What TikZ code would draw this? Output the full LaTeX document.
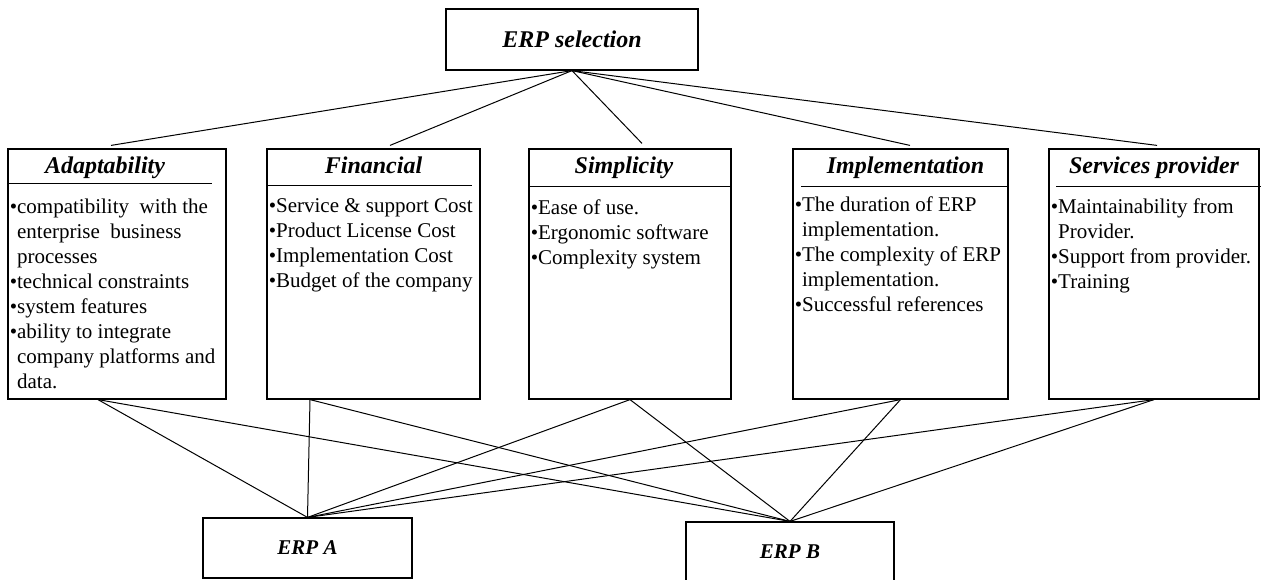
\documentclass[tikz,border=0pt]{standalone}
\usepackage{fontspec}
\setmainfont{Liberation Serif}
\usetikzlibrary{positioning}
\newcommand{\itemdot}{\textbullet}
\newcommand{\itemgap}{\phantom{\textbullet}}
\tikzset{
  goalbox/.style={draw,line width=0.6pt,inner sep=0pt,font=\fontsize{12}{14}\selectfont\bfseries\itshape},
  critbox/.style={draw,line width=0.6pt,inner sep=0pt,minimum width=#1,minimum height=125pt},
  crithead/.style={anchor=base,inner sep=0pt,font=\fontsize{12}{14}\selectfont\bfseries\itshape},
  critlist/.style={anchor=north west,align=left,inner sep=0pt,font=\fontsize{10.5}{12.5}\selectfont},
  altbox/.style={draw,line width=0.6pt,inner sep=0pt,minimum width=#1,minimum height=30pt,font=\fontsize{10.5}{12}\selectfont\bfseries\itshape},
  link/.style={line width=0.5pt}
}
\begin{document}
\begin{tikzpicture}[x=0.5pt,y=-0.5pt]
\useasboundingbox (0,0) rectangle (1263,579);
% goal
\node[goalbox,minimum width=126pt,minimum height=30.5pt] (sel) at (572,39.5) {ERP selection};
% criteria
\node[critbox=109pt] (adapt) at (117,274) {};
\node[critbox=106.5pt] (fin) at (373.5,274) {};
\node[critbox=101pt] (simp) at (630,274) {};
\node[critbox=107.5pt] (impl) at (900.5,274) {};
\node[critbox=105pt] (serv) at (1154,274) {};
\node[crithead] (adaptHead) at ([xshift=-6pt,yshift=-12.5pt]adapt.north) {Adaptability};
\node[crithead] (finHead) at ([yshift=-12.5pt]fin.north) {Financial};
\node[crithead] (simpHead) at ([xshift=-3pt,yshift=-12.5pt]simp.north) {Simplicity};
\node[crithead] (implHead) at ([xshift=2.5pt,yshift=-12.5pt]impl.north) {Implementation};
\node[crithead] (servHead) at ([yshift=-12.5pt]serv.north) {Services provider};
\draw[link] ([yshift=-17.5pt]adapt.north west) -- +(102.5pt,0);
\draw[link] ([yshift=-18.5pt]fin.north west) -- +(103pt,0);
\draw[link] ([yshift=-19pt]simp.north west) -- +(102pt,0);
\draw[link] ([xshift=4.5pt,yshift=-19pt]impl.north west) -- +(103pt,0);
\draw[link] ([xshift=4pt,yshift=-19pt]serv.north west) -- +(102.5pt,0);
\node[critlist] (adaptList) at ([xshift=1pt,yshift=-25pt]adapt.north west)
  {\itemdot compatibility\ \ with the\\ \itemgap enterprise\ \ business\\ \itemgap processes\\
   \itemdot technical constraints\\ \itemdot system features\\ \itemdot ability to integrate\\
   \itemgap company platforms and\\ \itemgap data.};
\node[critlist] (finList) at ([xshift=1pt,yshift=-25pt]fin.north west)
  {\itemdot Service \& support Cost\\ \itemdot Product License Cost\\
   \itemdot Implementation Cost\\ \itemdot Budget of the company};
\node[critlist] (simpList) at ([xshift=1pt,yshift=-25.5pt]simp.north west)
  {\itemdot Ease of use.\\ \itemdot Ergonomic software\\ \itemdot Complexity system};
\node[critlist] (implList) at ([xshift=1pt,yshift=-24pt]impl.north west)
  {\itemdot The duration of ERP\\ \itemgap implementation.\\ \itemdot The complexity of ERP\\
   \itemgap implementation.\\ \itemdot Successful references};
\node[critlist] (servList) at ([xshift=1pt,yshift=-25pt]serv.north west)
  {\itemdot Maintainability from\\ \itemgap Provider.\\ \itemdot Support from provider.\\
   \itemdot Training};
% alternatives
\node[altbox=104.5pt] (erpA) at (307.5,548) {ERP A};
\node[altbox=104pt] (erpB) at (790,552) {ERP B};
% link ends
\coordinate (adaptTop) at ([xshift=-3pt,yshift=1.5pt]adapt.north);
\coordinate (finTop) at ([xshift=8.25pt,yshift=1.5pt]fin.north);
\coordinate (simpTop) at ([xshift=6pt,yshift=2.5pt]simp.north);
\coordinate (implTop) at ([xshift=4.75pt,yshift=1.5pt]impl.north);
\coordinate (servTop) at ([xshift=1.5pt,yshift=1.5pt]serv.north);
\coordinate (adaptBot) at ([xshift=-9.5pt]adapt.south);
\coordinate (finBot) at ([xshift=-31.75pt]fin.south);
\coordinate (simpBot) at (simp.south);
\coordinate (implBot) at (impl.south);
\coordinate (servBot) at (serv.south);
% goal to criteria
\draw[link] (sel.south) -- (adaptTop);
\draw[link] (sel.south) -- (finTop);
\draw[link] (sel.south) -- (simpTop);
\draw[link] (sel.south) -- (implTop);
\draw[link] (sel.south) -- (servTop);
% criteria to alternatives
\draw[link] (adaptBot) -- (erpA.north);
\draw[link] (adaptBot) -- (erpB.north);
\draw[link] (finBot) -- (erpA.north);
\draw[link] (finBot) -- (erpB.north);
\draw[link] (simpBot) -- (erpA.north);
\draw[link] (simpBot) -- (erpB.north);
\draw[link] (implBot) -- (erpA.north);
\draw[link] (implBot) -- (erpB.north);
\draw[link] (servBot) -- (erpA.north);
\draw[link] (servBot) -- (erpB.north);
\end{tikzpicture}
\end{document}
